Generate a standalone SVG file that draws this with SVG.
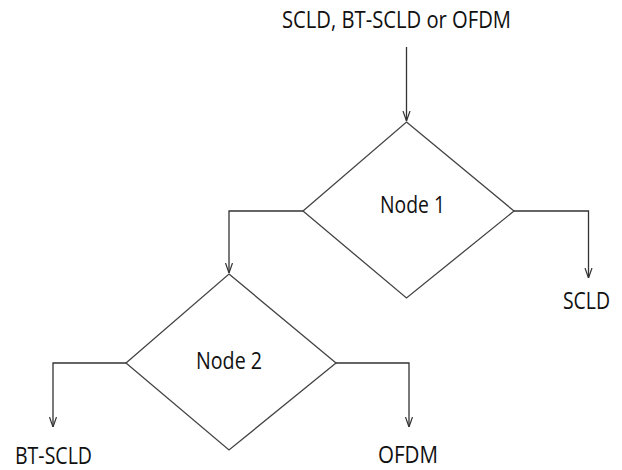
<svg xmlns="http://www.w3.org/2000/svg" width="622" height="470" viewBox="0 0 622 470">
<defs>
<marker id="arr" viewBox="0 0 10 10" refX="10" refY="5" markerWidth="10" markerHeight="10" markerUnits="userSpaceOnUse" orient="auto">
<path d="M0,1.5 L10,5 L0,8.5" fill="none" stroke="#333" stroke-width="1.2"/>
</marker>
</defs>
<style>
.shape{fill:#fff;stroke:#444;stroke-width:1.3}
.conn{fill:none;stroke:#333;stroke-width:1.3}
text{font-family:"Open Sans","Noto Sans",sans-serif;fill:#111;font-size:23px}
</style>
<rect width="622" height="470" fill="#fff"/>
<g id="connectors">
<path class="conn" d="M406.5,47 L406.5,121" marker-end="url(#arr)"/>
<path class="conn" d="M303,211 L229,211 L229,273" marker-end="url(#arr)"/>
<path class="conn" d="M514,211 L588.5,211 L588.5,278" marker-end="url(#arr)"/>
<path class="conn" d="M126,363 L53,363 L53,427" marker-end="url(#arr)"/>
<path class="conn" d="M336,363 L409,363 L409,427" marker-end="url(#arr)"/>
</g>
<g id="input">
<text x="282" y="28" textLength="229" lengthAdjust="spacingAndGlyphs">SCLD, BT-SCLD or OFDM</text>
</g>
<g id="node1">
<polygon class="shape" points="406.5,122 514,211 406.5,298 303,211"/>
<text x="380" y="213" textLength="65" lengthAdjust="spacingAndGlyphs">Node 1</text>
</g>
<g id="node2">
<polygon class="shape" points="229,274 336,363 229,450 126,363"/>
<text x="196" y="369" textLength="66" lengthAdjust="spacingAndGlyphs">Node 2</text>
</g>
<g id="out-scld">
<text x="563" y="309" textLength="47" lengthAdjust="spacingAndGlyphs">SCLD</text>
</g>
<g id="out-btscld">
<text x="15" y="464" textLength="77" lengthAdjust="spacingAndGlyphs">BT-SCLD</text>
</g>
<g id="out-ofdm">
<text x="378" y="463" textLength="60" lengthAdjust="spacingAndGlyphs">OFDM</text>
</g>
</svg>
